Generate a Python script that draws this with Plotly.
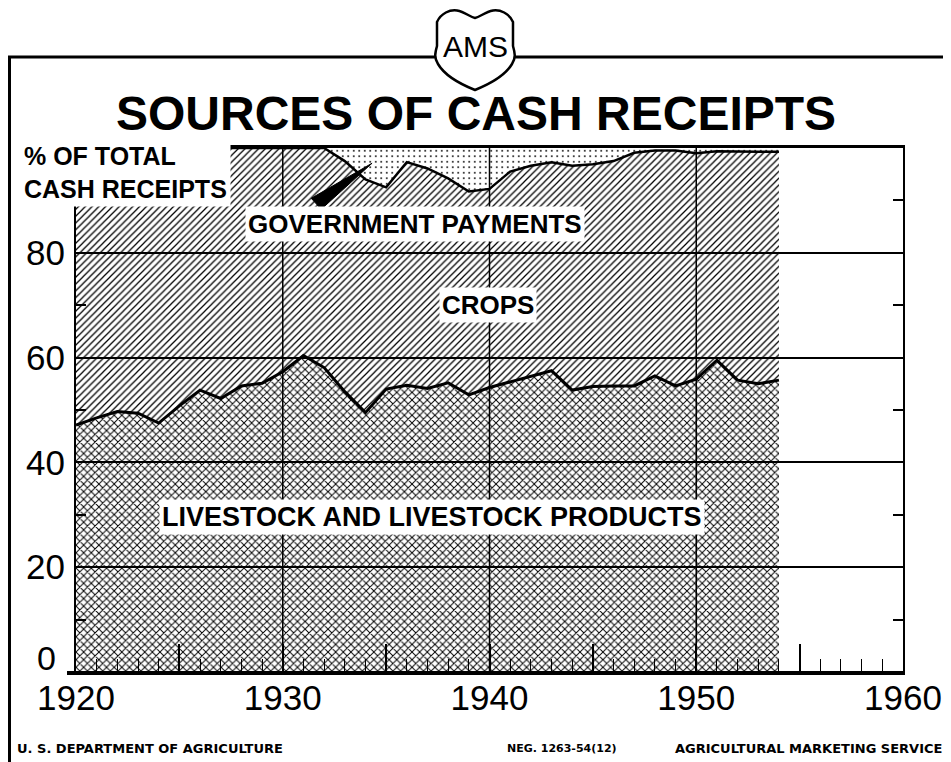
import plotly.graph_objects as go

# The page body adds an 8px margin, so the figure is drawn 8px smaller and
# every layout position below is given in window pixels and shifted back.
OFF = 8
W, H = 951 - OFF, 762 - OFF

# ---------------- data (percent of total cash receipts) ----------------
years = [1920, 1921, 1922, 1923, 1924, 1925, 1926, 1927, 1928, 1929,
         1930, 1931, 1932, 1933, 1934, 1935, 1936, 1937, 1938, 1939,
         1940, 1941, 1942, 1943, 1944, 1945, 1946, 1947, 1948, 1949,
         1950, 1951, 1952, 1953, 1954]
livestock = [47.1, 48.5, 49.7, 49.4, 47.5, 50.8, 53.8, 52.2, 54.6, 55.1,
             57.3, 60.4, 58.1, 53.5, 49.5, 54.0, 54.7, 54.1, 55.2, 52.9,
             54.3, 55.4, 56.4, 57.5, 53.8, 54.5, 54.6, 54.6, 56.5, 54.6,
             55.9, 59.5, 55.7, 55.0, 55.7]
crops = [52.9, 51.5, 50.3, 50.6, 52.5, 49.2, 46.2, 47.8, 45.4, 44.9,
         42.7, 39.6, 41.9, 44.0, 44.5, 38.5, 42.6, 42.0, 39.0, 38.8,
         37.9, 40.1, 40.2, 39.8, 42.8, 42.4, 42.9, 44.5, 43.0, 44.9,
         43.1, 39.9, 43.6, 44.3, 43.6]
government = [0, 0, 0, 0, 0, 0, 0, 0, 0, 0,
              0, 0, 0, 2.5, 6.0, 7.5, 2.7, 3.9, 5.8, 8.3,
              7.8, 4.5, 3.4, 2.7, 3.4, 3.1, 2.5, 0.9, 0.5, 0.5,
              1.0, 0.6, 0.7, 0.7, 0.7]

x_tickvals = [1920, 1925, 1930, 1935, 1940, 1945, 1950, 1955, 1960]
x_ticktext = ["1920", "", "1930", "", "1940", "", "1950", "", "1960"]
y_tickvals = [0, 20, 40, 60, 80]
y_ticktext = ["", "20", "40", "60", "80"]   # the "0" sits raised, drawn below
y_zero_label = "0"
y_minor = [10, 30, 50, 70, 90]
x_grid = [1930, 1940, 1950]

NUM_FONT = "Liberation Sans, Arial, sans-serif"
LAB_FONT = "Liberation Sans, Arial, sans-serif"
FOOT_FONT = "DejaVu Sans, sans-serif"


def px(x):
    return (x - OFF) / W


def py(y):
    return 1 - (y - OFF) / H


fig = go.Figure()

fig.add_trace(go.Scatter(
    x=years, y=livestock, stackgroup="s", mode="lines",
    line=dict(color="black", width=3),
    fillcolor="rgba(0,0,0,0)",
    fillpattern=dict(shape="x", size=5.4, solidity=0.33, fgcolor="black",
                     bgcolor="rgba(0,0,0,0)"),
    hoverinfo="skip", showlegend=False))
fig.add_trace(go.Scatter(
    x=years, y=crops, stackgroup="s", mode="lines",
    line=dict(color="black", width=2.5),
    fillcolor="rgba(0,0,0,0)",
    fillpattern=dict(shape="/", size=4.8, solidity=0.26, fgcolor="black",
                     bgcolor="rgba(0,0,0,0)"),
    hoverinfo="skip", showlegend=False))
fig.add_trace(go.Scatter(
    x=years, y=government, stackgroup="s", mode="lines",
    line=dict(color="black", width=0),
    fillcolor="rgba(0,0,0,0)",
    fillpattern=dict(shape=".", size=5.5, solidity=0.09, fgcolor="black",
                     bgcolor="rgba(0,0,0,0)"),
    hoverinfo="skip", showlegend=False))

shapes = []
# vertical grid lines
for g in x_grid:
    shapes.append(dict(type="line", xref="x", yref="y", x0=g, x1=g, y0=0, y1=100,
                       line=dict(color="black", width=1.5), layer="below"))

# outer frame (left and top border)
shapes.append(dict(type="line", xref="paper", yref="paper",
                   x0=px(9.5), x1=px(9.5), y0=py(57), y1=py(762),
                   line=dict(color="black", width=3)))
shapes.append(dict(type="line", xref="paper", yref="paper",
                   x0=px(8), x1=px(951), y0=py(57), y1=py(57),
                   line=dict(color="black", width=3)))

# AMS shield outline
shield = [("M", [(437, 22)]),
          ("C", [(441, 13), (450, 9.5), (457, 10.5)]),
          ("C", [(465, 12), (470, 17), (475, 18)]),
          ("C", [(480, 17), (485, 12), (493, 10.5)]),
          ("C", [(500, 9.5), (509, 13), (513, 22)]),
          ("L", [(513, 46)]),
          ("C", [(515, 53), (516, 58), (512, 64)]),
          ("C", [(505, 76), (490, 84), (475, 90)]),
          ("C", [(460, 84), (445, 76), (438, 64)]),
          ("C", [(434, 58), (435, 53), (437, 46)])]
path = ""
for cmd, pts in shield:
    path += cmd + " " + " ".join("%.5f,%.5f" % (px(a), py(b)) for a, b in pts) + " "
path += "Z"
shapes.append(dict(type="path", xref="paper", yref="paper", path=path,
                   fillcolor="white", line=dict(color="black", width=2.5)))

# thick base line
shapes.append(dict(type="line", xref="paper", yref="paper",
                   x0=px(67), x1=px(903), y0=py(673), y1=py(673),
                   line=dict(color="black", width=4)))

# pointer wedge to government payments area
shapes.append(dict(type="path", xref="x", yref="y",
                   path="M 1931.38,90.4 L 1931.86,88.3 L 1934.32,97.1 Z",
                   fillcolor="black", line=dict(color="black", width=1)))

annotations = [
    dict(text="<b>SOURCES OF CASH RECEIPTS</b>", x=px(476), y=py(113),
         font=dict(family=LAB_FONT, size=48, color="black")),
    dict(text="AMS", x=px(475), y=py(46),
         font=dict(family=NUM_FONT, size=30, color="black")),
    dict(text="<b>% OF TOTAL<br>CASH RECEIPTS</b>", x=px(20), y=py(138),
         xanchor="left", yanchor="top", align="left", bgcolor="white",
         borderpad=3,
         font=dict(family=LAB_FONT, size=25, color="black")),
    dict(text="<b>GOVERNMENT PAYMENTS</b>", x=px(415), y=py(224),
         bgcolor="white", borderpad=2,
         font=dict(family=LAB_FONT, size=26, color="black")),
    dict(text="<b>CROPS</b>", x=px(488), y=py(305),
         bgcolor="white", borderpad=2,
         font=dict(family=LAB_FONT, size=26, color="black")),
    dict(text="<b>LIVESTOCK AND LIVESTOCK PRODUCTS</b>", x=px(432), y=py(517),
         bgcolor="white", borderpad=2,
         font=dict(family=LAB_FONT, size=27, color="black")),
    dict(text=y_zero_label, x=px(46), y=py(658),
         font=dict(family=NUM_FONT, size=34, color="black")),
    dict(text="<b>U. S. DEPARTMENT OF AGRICULTURE</b>", x=px(15), y=py(748),
         xanchor="left",
         font=dict(family=FOOT_FONT, size=13, color="black")),
    dict(text="<b>NEG. 1263-54(12)</b>", x=px(505), y=py(748),
         xanchor="left",
         font=dict(family=FOOT_FONT, size=11, color="black")),
    dict(text="<b>AGRICULTURAL MARKETING SERVICE</b>", x=px(944), y=py(748),
         xanchor="right",
         font=dict(family=FOOT_FONT, size=13, color="black")),
]
for a in annotations:
    a.setdefault("xref", "paper")
    a.setdefault("yref", "paper")
    a.setdefault("xanchor", "center")
    a.setdefault("yanchor", "middle")
    a.setdefault("showarrow", False)

fig.update_layout(
    template="none",
    width=W, height=H,
    margin=dict(l=0, r=0, t=0, b=0, pad=0, autoexpand=False),
    paper_bgcolor="white", plot_bgcolor="white",
    shapes=shapes, annotations=annotations,
    xaxis=dict(domain=[px(76), px(903)], range=[1920, 1960], automargin=False,
               tickmode="array", tickvals=x_tickvals, ticktext=x_ticktext,
               ticks="inside", ticklen=28, tickwidth=1.5, tickcolor="black",
               minor=dict(dtick=1, tick0=1920, ticks="inside", ticklen=13,
                          tickwidth=1.2, tickcolor="black", showgrid=False),
               showgrid=False, zeroline=False,
               showline=True, linecolor="black", linewidth=2.5, mirror=True,
               ticklabelstandoff=-7,
               tickfont=dict(family=NUM_FONT, size=35, color="black"),
               fixedrange=True),
    yaxis=dict(domain=[py(672), py(148)], range=[0, 100], automargin=False,
               tickmode="array", tickvals=y_tickvals, ticktext=y_ticktext,
               ticks="", showgrid=True, gridcolor="black", gridwidth=1.5,
               minor=dict(tickvals=y_minor, ticks="inside", ticklen=10,
                          tickwidth=1.5, tickcolor="black", showgrid=False),
               zeroline=False, showline=True, linecolor="black", linewidth=2,
               mirror="ticks", ticklabelstandoff=2,
               tickfont=dict(family=NUM_FONT, size=35, color="black"),
               fixedrange=True),
)

fig.write_html("out.html")
